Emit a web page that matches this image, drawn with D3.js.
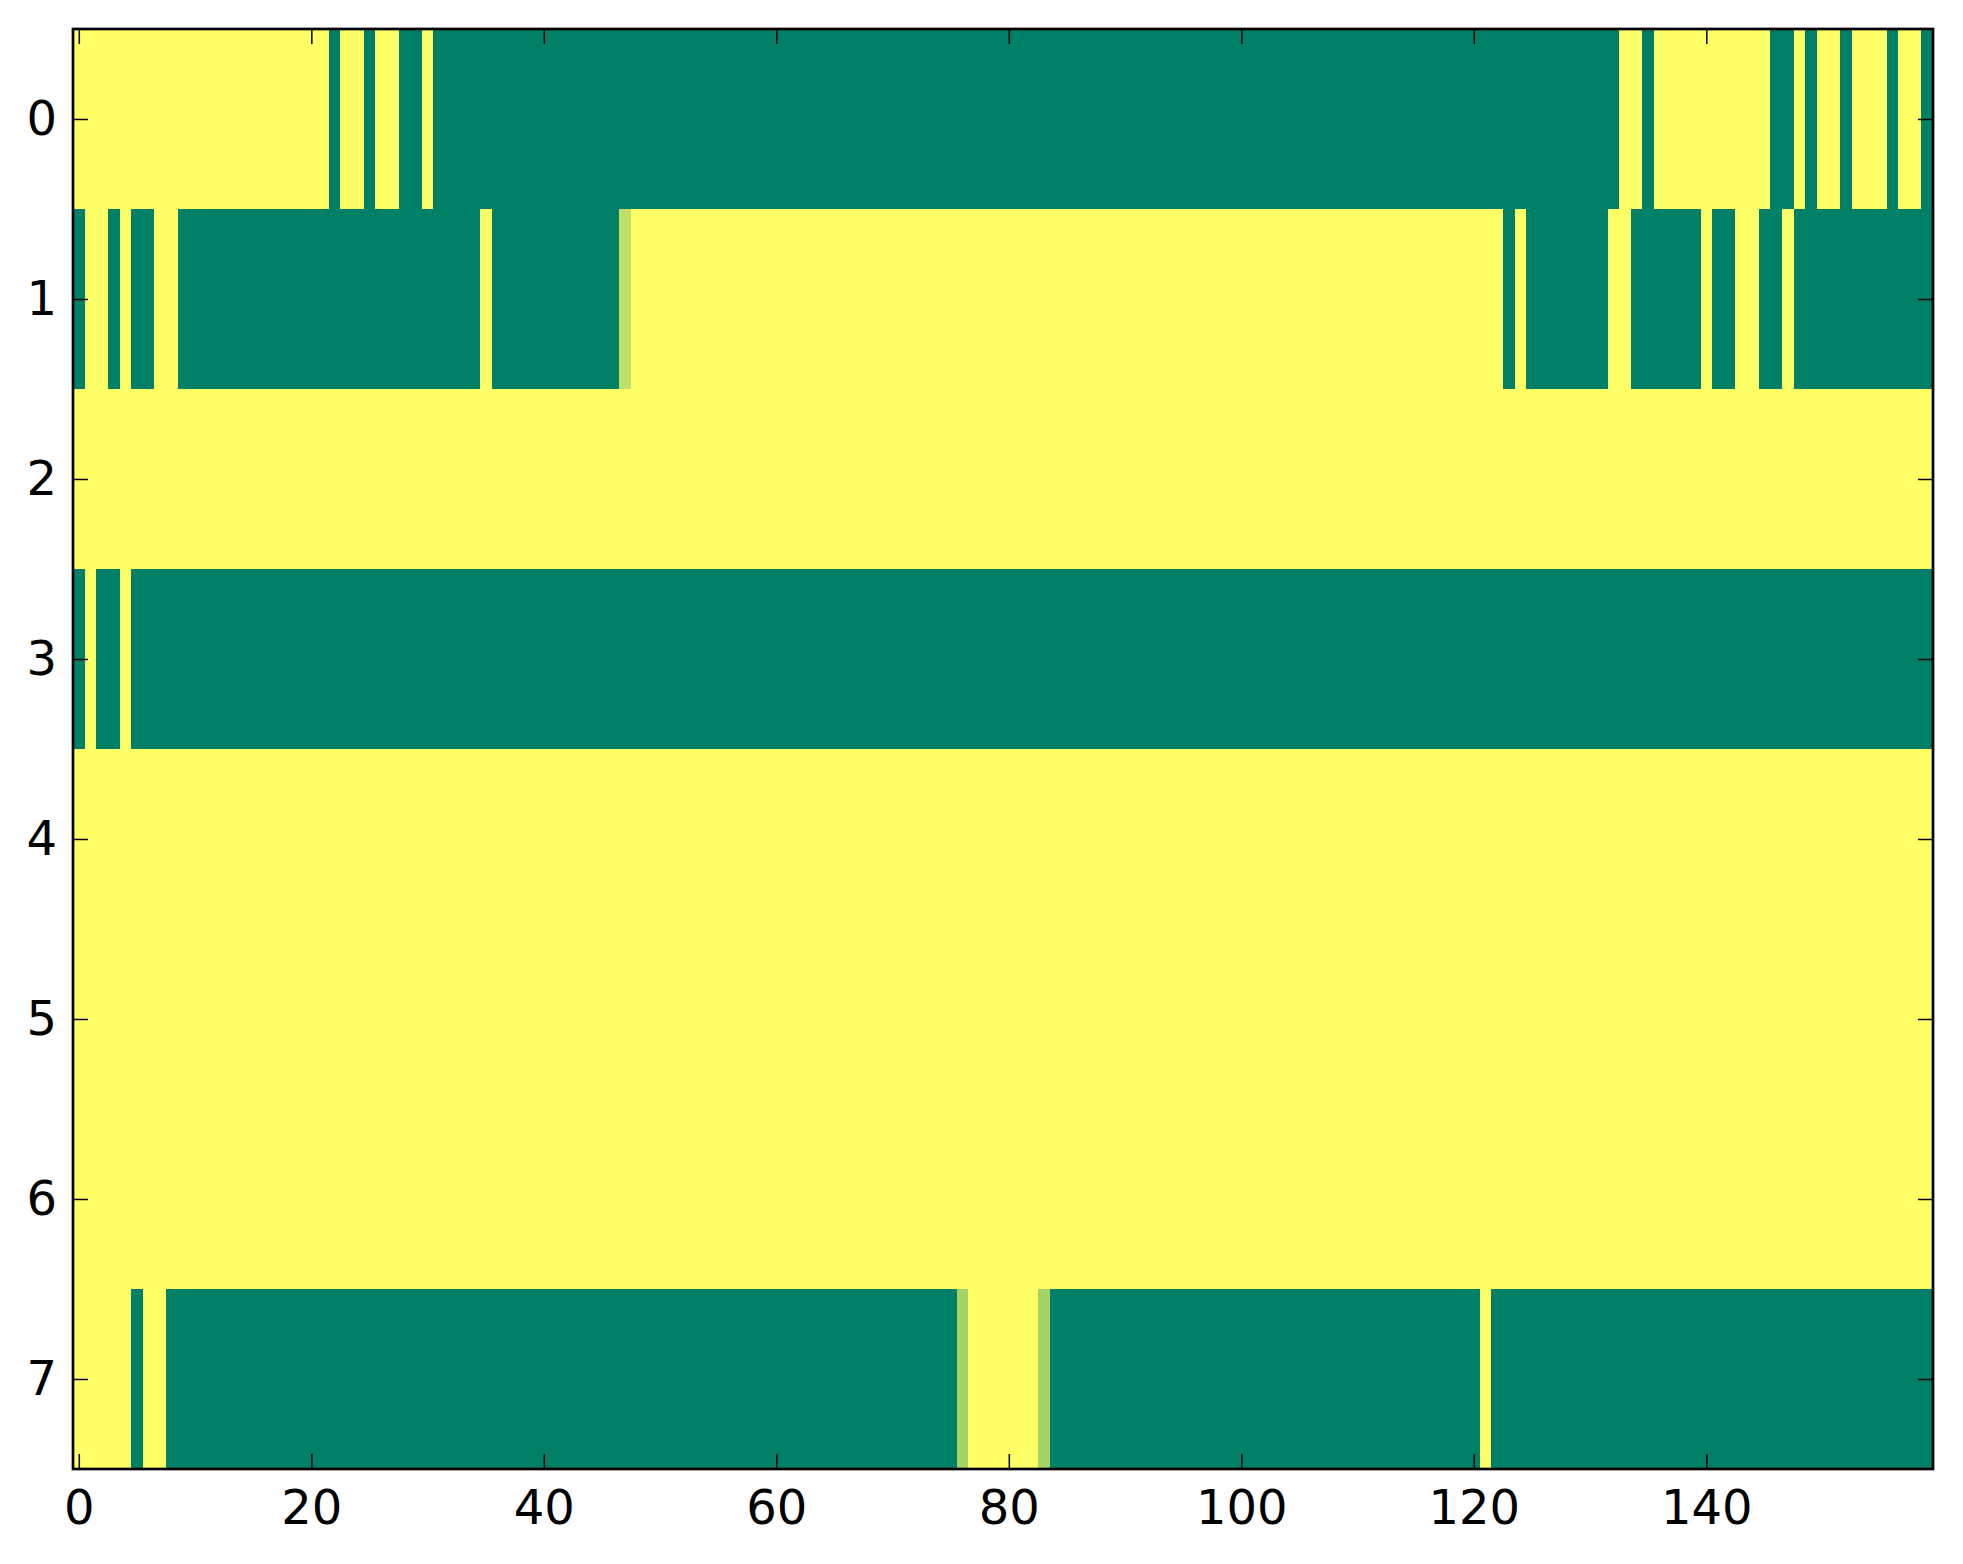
<!DOCTYPE html>
<html>
<head>
<meta charset="utf-8">
<script src="https://cdn.jsdelivr.net/npm/d3@7"></script>
<style>
  html, body { margin: 0; padding: 0; background: #fff; }
  svg { display: block; }
  text { font-family: "DejaVu Sans", sans-serif; }
</style>
</head>
<body>
<svg id="vis" width="1963" height="1564"></svg>
<script>
// cell values per row, 160 columns each (1 = green, 0 = yellow)
const row0 = [
  0,0,0,0,0,0,0,0,0,0, 0,0,0,0,0,0,0,0,0,0,
  0,0,1,0,0,1,0,0,1,1, 0,1,1,1,1,1,1,1,1,1,
  1,1,1,1,1,1,1,1,1,1, 1,1,1,1,1,1,1,1,1,1,
  1,1,1,1,1,1,1,1,1,1, 1,1,1,1,1,1,1,1,1,1,
  1,1,1,1,1,1,1,1,1,1, 1,1,1,1,1,1,1,1,1,1,
  1,1,1,1,1,1,1,1,1,1, 1,1,1,1,1,1,1,1,1,1,
  1,1,1,1,1,1,1,1,1,1, 1,1,1,0,0,1,0,0,0,0,
  0,0,0,0,0,0,1,1,0,1, 0,0,1,0,0,0,1,0,0,1
];
const row1 = [
  1,0,0,1,0,1,1,0,0,1, 1,1,1,1,1,1,1,1,1,1,
  1,1,1,1,1,1,1,1,1,1, 1,1,1,1,1,0,1,1,1,1,
  1,1,1,1,1,1,1,0.25,0,0, 0,0,0,0,0,0,0,0,0,0,
  0,0,0,0,0,0,0,0,0,0, 0,0,0,0,0,0,0,0,0,0,
  0,0,0,0,0,0,0,0,0,0, 0,0,0,0,0,0,0,0,0,0,
  0,0,0,0,0,0,0,0,0,0, 0,0,0,0,0,0,0,0,0,0,
  0,0,0,1,0,1,1,1,1,1, 1,1,0,0,1,1,1,1,1,1,
  0,1,1,0,0,1,1,0,1,1, 1,1,1,1,1,1,1,1,1,1
];
const row2 = [
  0,0,0,0,0,0,0,0,0,0, 0,0,0,0,0,0,0,0,0,0,
  0,0,0,0,0,0,0,0,0,0, 0,0,0,0,0,0,0,0,0,0,
  0,0,0,0,0,0,0,0,0,0, 0,0,0,0,0,0,0,0,0,0,
  0,0,0,0,0,0,0,0,0,0, 0,0,0,0,0,0,0,0,0,0,
  0,0,0,0,0,0,0,0,0,0, 0,0,0,0,0,0,0,0,0,0,
  0,0,0,0,0,0,0,0,0,0, 0,0,0,0,0,0,0,0,0,0,
  0,0,0,0,0,0,0,0,0,0, 0,0,0,0,0,0,0,0,0,0,
  0,0,0,0,0,0,0,0,0,0, 0,0,0,0,0,0,0,0,0,0
];
const row3 = [
  1,0,1,1,0,1,1,1,1,1, 1,1,1,1,1,1,1,1,1,1,
  1,1,1,1,1,1,1,1,1,1, 1,1,1,1,1,1,1,1,1,1,
  1,1,1,1,1,1,1,1,1,1, 1,1,1,1,1,1,1,1,1,1,
  1,1,1,1,1,1,1,1,1,1, 1,1,1,1,1,1,1,1,1,1,
  1,1,1,1,1,1,1,1,1,1, 1,1,1,1,1,1,1,1,1,1,
  1,1,1,1,1,1,1,1,1,1, 1,1,1,1,1,1,1,1,1,1,
  1,1,1,1,1,1,1,1,1,1, 1,1,1,1,1,1,1,1,1,1,
  1,1,1,1,1,1,1,1,1,1, 1,1,1,1,1,1,1,1,1,1
];
const row4 = [
  0,0,0,0,0,0,0,0,0,0, 0,0,0,0,0,0,0,0,0,0,
  0,0,0,0,0,0,0,0,0,0, 0,0,0,0,0,0,0,0,0,0,
  0,0,0,0,0,0,0,0,0,0, 0,0,0,0,0,0,0,0,0,0,
  0,0,0,0,0,0,0,0,0,0, 0,0,0,0,0,0,0,0,0,0,
  0,0,0,0,0,0,0,0,0,0, 0,0,0,0,0,0,0,0,0,0,
  0,0,0,0,0,0,0,0,0,0, 0,0,0,0,0,0,0,0,0,0,
  0,0,0,0,0,0,0,0,0,0, 0,0,0,0,0,0,0,0,0,0,
  0,0,0,0,0,0,0,0,0,0, 0,0,0,0,0,0,0,0,0,0
];
const row5 = [
  0,0,0,0,0,0,0,0,0,0, 0,0,0,0,0,0,0,0,0,0,
  0,0,0,0,0,0,0,0,0,0, 0,0,0,0,0,0,0,0,0,0,
  0,0,0,0,0,0,0,0,0,0, 0,0,0,0,0,0,0,0,0,0,
  0,0,0,0,0,0,0,0,0,0, 0,0,0,0,0,0,0,0,0,0,
  0,0,0,0,0,0,0,0,0,0, 0,0,0,0,0,0,0,0,0,0,
  0,0,0,0,0,0,0,0,0,0, 0,0,0,0,0,0,0,0,0,0,
  0,0,0,0,0,0,0,0,0,0, 0,0,0,0,0,0,0,0,0,0,
  0,0,0,0,0,0,0,0,0,0, 0,0,0,0,0,0,0,0,0,0
];
const row6 = [
  0,0,0,0,0,0,0,0,0,0, 0,0,0,0,0,0,0,0,0,0,
  0,0,0,0,0,0,0,0,0,0, 0,0,0,0,0,0,0,0,0,0,
  0,0,0,0,0,0,0,0,0,0, 0,0,0,0,0,0,0,0,0,0,
  0,0,0,0,0,0,0,0,0,0, 0,0,0,0,0,0,0,0,0,0,
  0,0,0,0,0,0,0,0,0,0, 0,0,0,0,0,0,0,0,0,0,
  0,0,0,0,0,0,0,0,0,0, 0,0,0,0,0,0,0,0,0,0,
  0,0,0,0,0,0,0,0,0,0, 0,0,0,0,0,0,0,0,0,0,
  0,0,0,0,0,0,0,0,0,0, 0,0,0,0,0,0,0,0,0,0
];
const row7 = [
  0,0,0,0,0,1,0,0,1,1, 1,1,1,1,1,1,1,1,1,1,
  1,1,1,1,1,1,1,1,1,1, 1,1,1,1,1,1,1,1,1,1,
  1,1,1,1,1,1,1,1,1,1, 1,1,1,1,1,1,1,1,1,1,
  1,1,1,1,1,1,1,1,1,1, 1,1,1,1,1,1,0.35,0,0,0,
  0,0,0,0.35,1,1,1,1,1,1, 1,1,1,1,1,1,1,1,1,1,
  1,1,1,1,1,1,1,1,1,1, 1,1,1,1,1,1,1,1,1,1,
  1,0,1,1,1,1,1,1,1,1, 1,1,1,1,1,1,1,1,1,1,
  1,1,1,1,1,1,1,1,1,1, 1,1,1,1,1,1,1,1,1,1
];
const rows = [row0, row1, row2, row3, row4, row5, row6, row7];

const xTicks = [0, 20, 40, 60, 80, 100, 120, 140];
const yTicks = [0, 1, 2, 3, 4, 5, 6, 7];

const svg = d3.select("#vis");
const margin = { top: 29, right: 30, bottom: 95, left: 73 };
const width = +svg.attr("width") - margin.left - margin.right;
const height = +svg.attr("height") - margin.top - margin.bottom;

const nCols = row0.length;
const nRows = rows.length;

const x = d3.scaleLinear()
  .domain([-0.5, nCols - 0.5])
  .range([0, width]);

const y = d3.scaleLinear()
  .domain([-0.5, nRows - 0.5])
  .range([0, height]);

// matplotlib "summer" map, reversed: 0 -> yellow, 1 -> green
const color = d3.scaleLinear()
  .domain([0, 1])
  .range(["#ffff66", "#008066"])
  .interpolate(d3.interpolateRgb);

const g = svg.append("g")
  .attr("transform", `translate(${margin.left}, ${margin.top})`);

const cells = [];
rows.forEach((r, i) => r.forEach((v, j) => cells.push({ row: i, col: j, v: v })));

g.append("g")
  .selectAll("rect")
  .data(cells)
  .join("rect")
  .attr("x", d => x(d.col - 0.5))
  .attr("y", d => y(d.row - 0.5))
  .attr("width", d => x(d.col + 0.5) - x(d.col - 0.5) + 0.3)
  .attr("height", d => y(d.row + 0.5) - y(d.row - 0.5) + 0.3)
  .attr("fill", d => color(d.v))
  .attr("shape-rendering", "crispEdges");

const tickLen = 15;

const styleAxis = sel => {
  sel.select(".domain").remove();
  sel.selectAll(".tick line").attr("stroke", "#000").attr("stroke-width", 1.5);
  sel.selectAll(".tick text")
    .attr("fill", "#000")
    .style("font-size", "48px")
    .style("font-family", "'DejaVu Sans', sans-serif");
};

g.append("g")
  .attr("transform", `translate(0, ${height})`)
  .call(d3.axisBottom(x).tickValues(xTicks).tickSizeInner(-tickLen).tickSizeOuter(0).tickPadding(21))
  .call(styleAxis);

g.append("g")
  .call(d3.axisTop(x).tickValues(xTicks).tickSizeInner(-tickLen).tickSizeOuter(0).tickFormat(""))
  .call(styleAxis);

g.append("g")
  .call(d3.axisLeft(y).tickValues(yTicks).tickSizeInner(-tickLen).tickSizeOuter(0).tickPadding(16))
  .call(styleAxis);

g.append("g")
  .attr("transform", `translate(${width}, 0)`)
  .call(d3.axisRight(y).tickValues(yTicks).tickSizeInner(-tickLen).tickSizeOuter(0).tickFormat(""))
  .call(styleAxis);

// frame
g.append("rect")
  .attr("width", width)
  .attr("height", height)
  .attr("fill", "none")
  .attr("stroke", "#000")
  .attr("stroke-width", 2.7);
</script>
</body>
</html>
